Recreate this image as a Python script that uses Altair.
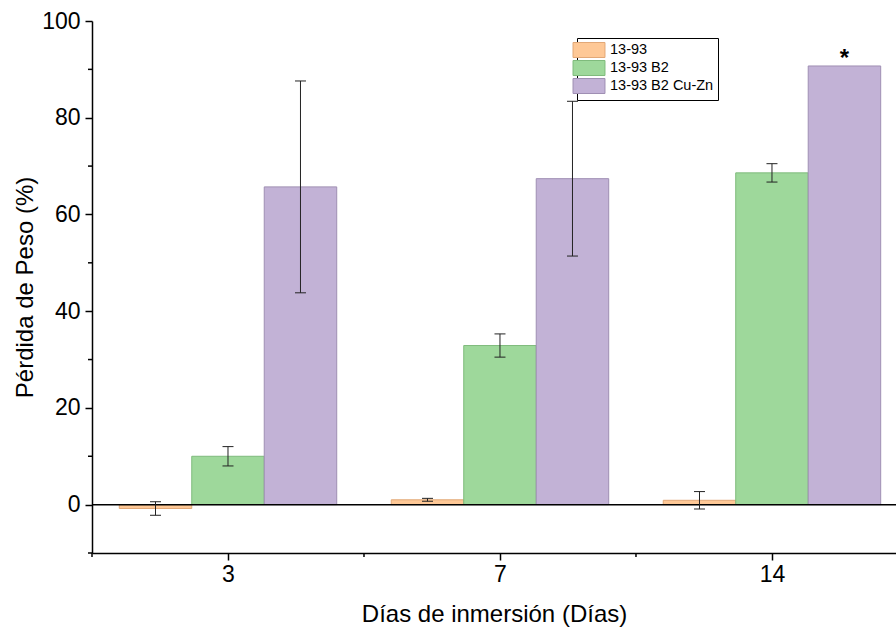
import json
import altair as alt
import pandas as pd

# ---------------- data ----------------
dias = ["3", "7", "14"]
muestras = ["13-93", "13-93 B2", "13-93 B2 Cu-Zn"]
perdida_1393 = [-0.8, 1.0, 0.9]
perdida_b2 = [10.0, 32.9, 68.6]
perdida_cuzn = [65.7, 67.4, 90.7]
error_1393 = [1.4, 0.3, 1.8]
error_b2 = [2.0, 2.4, 1.9]
error_cuzn = [21.9, 16.0, 0.0]
marca_cuzn = ["", "", "*"]
y_major = [0, 20, 40, 60, 80, 100]
y_minor = [-10, 10, 30, 50, 70, 90]
x_minor = [-0.5, 0.5, 1.5]

# ---------------- styling ----------------
FONT = "Liberation Sans"
BAR_W = 0.2665
fills = ["#FEC896", "#9ED89B", "#C2B2D6"]
strokes = ["#E2A877", "#7FBB7C", "#9F8FB3"]

series = [
    (muestras[0], perdida_1393, error_1393, ["", "", ""]),
    (muestras[1], perdida_b2, error_b2, ["", "", ""]),
    (muestras[2], perdida_cuzn, error_cuzn, marca_cuzn),
]
rows = []
for i, d in enumerate(dias):
    for j, (name, vals, errs, marks) in enumerate(series):
        c = i + (j - 1) * BAR_W
        rows.append(dict(dia=d, muestra=name, xc=c, x0=c - BAR_W / 2, x1=c + BAR_W / 2,
                         valor=vals[i], cero=0.0, lo=vals[i] - errs[i], hi=vals[i] + errs[i],
                         err=errs[i], marca=marks[i]))
df = pd.DataFrame(rows)
df_err = df[df["err"] > 0]
df_mark = df[df["marca"] != ""]

xscale = alt.Scale(domain=[-0.5, 2.456], nice=False, zero=False)
yscale = alt.Scale(domain=[-10, 100], nice=False, zero=False)

label_expr = f"{json.dumps(dias)}[round(datum.value)]"

xaxis = alt.Axis(values=[0, 1, 2], labelExpr=label_expr, title="Días de inmersión (Días)",
                 grid=False, tickSize=7, tickWidth=1.5, tickColor="black",
                 domainColor="black", domainWidth=1.5, labelFont=FONT, labelFontSize=23,
                 labelColor="black", labelPadding=3, titleFont=FONT, titleFontSize=24,
                 titleFontWeight="normal", titleColor="black", titlePadding=16)
yaxis = alt.Axis(values=y_major, format="d", title="Pérdida de Peso (%)", grid=False,
                 tickSize=7, tickWidth=1.5, tickColor="black", domainColor="black",
                 domainWidth=1.5, labelFont=FONT, labelFontSize=23, labelColor="black",
                 labelPadding=5, titleFont=FONT, titleFontSize=24, titleFontWeight="normal",
                 titleColor="black", titlePadding=4)

legend = alt.Legend(orient="none", legendX=485, legendY=17, title=None,
                    symbolType="M-2.13,-1H2.13V1H-2.13Z", symbolSize=225,
                    symbolStrokeWidth=1, labelFont=FONT, labelFontSize=14.5,
                    labelColor="black", labelOffset=13, rowPadding=-4, padding=4,
                    strokeColor="black", fillColor="white")

base = alt.Chart(df)

bars = base.mark_bar(strokeWidth=1, clip=True).encode(
    x=alt.X("x0:Q", scale=xscale, axis=xaxis),
    x2="x1:Q",
    y=alt.Y("valor:Q", scale=yscale, axis=yaxis),
    y2="cero:Q",
    fill=alt.Fill("muestra:N", scale=alt.Scale(domain=muestras, range=fills), legend=legend),
    stroke=alt.Stroke("muestra:N", scale=alt.Scale(domain=muestras, range=strokes), legend=legend),
)

zero = alt.Chart(pd.DataFrame({"cero": [0.0]})).mark_rule(color="black", strokeWidth=1.5).encode(
    y=alt.Y("cero:Q", scale=yscale, axis=yaxis)
)

err_rule = alt.Chart(df_err).mark_rule(color="#222222", strokeWidth=1).encode(
    x=alt.X("xc:Q", scale=xscale, axis=xaxis),
    y=alt.Y("lo:Q", scale=yscale, axis=yaxis),
    y2="hi:Q",
)
cap_hi = alt.Chart(df_err).mark_tick(orient="horizontal", size=11, thickness=1, color="#222222", opacity=1).encode(
    x=alt.X("xc:Q", scale=xscale, axis=xaxis),
    y=alt.Y("hi:Q", scale=yscale, axis=yaxis),
)
cap_lo = alt.Chart(df_err).mark_tick(orient="horizontal", size=11, thickness=1, color="#222222", opacity=1).encode(
    x=alt.X("xc:Q", scale=xscale, axis=xaxis),
    y=alt.Y("lo:Q", scale=yscale, axis=yaxis),
)

star = alt.Chart(df_mark).mark_text(font=FONT, fontSize=24, fontWeight="bold", color="black",
                                    baseline="middle", dy=-7).encode(
    x=alt.X("xc:Q", scale=xscale, axis=xaxis),
    y=alt.Y("valor:Q", scale=yscale, axis=yaxis),
    text="marca:N",
)

ymin_ticks = alt.Chart(pd.DataFrame({"v": y_minor})).mark_rule(color="black", strokeWidth=1.5).encode(
    y=alt.Y("v:Q", scale=yscale, axis=yaxis),
    x=alt.value(-4),
    x2=alt.value(0),
)
xmin_ticks = alt.Chart(pd.DataFrame({"v": x_minor})).mark_rule(color="black", strokeWidth=1.5).encode(
    x=alt.X("v:Q", scale=xscale, axis=xaxis),
    y=alt.value(532),
    y2=alt.value(536),
)

chart = alt.layer(bars, zero, err_rule, cap_hi, cap_lo, star, ymin_ticks, xmin_ticks).properties(
    width=804, height=532,
    padding={"left": 92, "top": 21, "right": 0, "bottom": 75},
    autosize=alt.AutoSizeParams(type="none"),
    background="white",
).configure_view(stroke=None)

chart.save("out.html", embed_options={"renderer": "svg", "actions": False})
